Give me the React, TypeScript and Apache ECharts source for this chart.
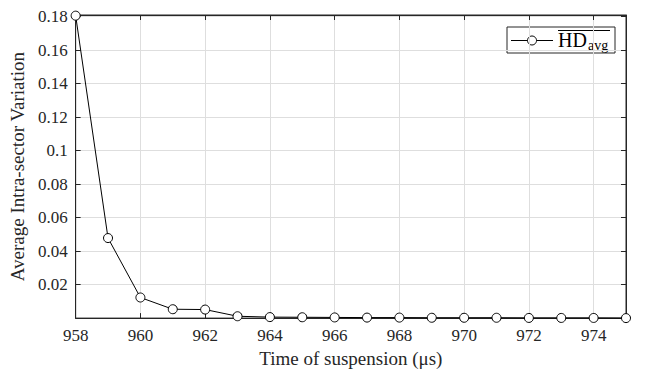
import React, { useEffect, useRef } from "react";
import * as echarts from "echarts";

const xValues = [958, 959, 960, 961, 962, 963, 964, 965, 966, 967, 968, 969, 970, 971, 972, 973, 974, 975];
const hdAvg = [0.1806, 0.0478, 0.0123, 0.0053, 0.0051, 0.0011, 0.0006, 0.0005, 0.0004, 0.0003, 0.0003, 0.0002, 0.0002, 0.0002, 0.0001, 0.0001, 0.0001, 0.0];
const xTitle = "Time of suspension (μs)";
const yTitle = "Average Intra-sector Variation";

const FONT = "Liberation Serif";
const AX = "#262626";
const GRID = "#dedede";

export default function App() {
  const ref = useRef<HTMLDivElement>(null);
  useEffect(() => {
    if (!ref.current) return;
    const chart = echarts.init(ref.current, null, { renderer: "svg" });
    const data = xValues.map((x, i) => [x, hdAvg[i]]);
    const xFmt = (v: number) => (Math.round(v) % 2 === 0 && v < 975 ? String(v) : "");
    const yFmt = (v: number) => (v <= 0 || v > 0.1805 ? "" : String(Number(v.toFixed(2))));
    chart.setOption({
      animation: false,
      backgroundColor: "#ffffff",
      textStyle: { fontFamily: FONT },
      grid: { left: 73, right: 21, top: 15, bottom: 53, show: true, borderColor: AX, borderWidth: 1, containLabel: false },
      xAxis: [
        {
          type: "value", min: 958, max: 975, interval: 2, position: "bottom",
          name: xTitle, nameLocation: "middle", nameGap: 30,
          nameTextStyle: { fontSize: 19, fontFamily: FONT, color: "#262626" },
          axisLine: { show: true, onZero: false, lineStyle: { color: AX, width: 1 } },
          axisTick: { show: true, inside: true, length: 5, lineStyle: { color: AX } },
          axisLabel: { formatter: xFmt, color: "#262626", fontSize: 17, fontFamily: FONT, margin: 9 },
          splitLine: { show: true, lineStyle: { color: GRID, width: 1 } },
        },
        {
          type: "value", min: 958, max: 975, interval: 2, position: "top",
          axisLine: { show: true, onZero: false, lineStyle: { color: AX, width: 1 } },
          axisTick: { show: true, inside: true, length: 5, lineStyle: { color: AX } },
          axisLabel: { show: false },
          splitLine: { show: false },
        },
      ],
      yAxis: [
        {
          type: "value", min: 0, max: 0.181, interval: 0.02, position: "left",
          name: yTitle, nameLocation: "middle", nameGap: 38,
          nameTextStyle: { fontSize: 19, fontFamily: FONT, color: "#262626" },
          axisLine: { show: true, onZero: false, lineStyle: { color: AX, width: 1 } },
          axisTick: { show: true, inside: true, length: 5, lineStyle: { color: AX } },
          axisLabel: { formatter: yFmt, color: "#262626", fontSize: 17, fontFamily: FONT, margin: 8 },
          splitLine: { show: true, lineStyle: { color: GRID, width: 1 } },
        },
        {
          type: "value", min: 0, max: 0.181, interval: 0.02, position: "right",
          axisLine: { show: true, onZero: false, lineStyle: { color: AX, width: 1 } },
          axisTick: { show: true, inside: true, length: 5, lineStyle: { color: AX } },
          axisLabel: { show: false },
          splitLine: { show: false },
        },
      ],
      series: [
        {
          type: "line", xAxisIndex: 0, yAxisIndex: 0, data,
          symbol: "circle", symbolSize: 9, showAllSymbol: true,
          lineStyle: { color: "#000000", width: 1 },
          itemStyle: { color: "#ffffff", borderColor: "#000000", borderWidth: 1 },
          clip: false,
        },
      ],
      graphic: [
        {
          type: "group",
          children: [
            { type: "rect", shape: { x: 507, y: 27, width: 108, height: 26 }, style: { fill: "#ffffff", stroke: AX, lineWidth: 1 } },
            { type: "line", shape: { x1: 511, y1: 40.5, x2: 553, y2: 40.5 }, style: { stroke: "#000000", lineWidth: 1 } },
            { type: "circle", shape: { cx: 532, cy: 40.5, r: 4.5 }, style: { fill: "#ffffff", stroke: "#000000", lineWidth: 1 } },
            { type: "text", style: { text: "HD", x: 558, y: 40, fontFamily: FONT, fontSize: 20, fill: "#000000", verticalAlign: "middle" } },
            { type: "text", style: { text: "avg", x: 588, y: 45.5, fontFamily: FONT, fontSize: 14, fill: "#000000", verticalAlign: "middle" } },
            { type: "line", shape: { x1: 558, y1: 30.5, x2: 610, y2: 30.5 }, style: { stroke: "#000000", lineWidth: 1 } },
          ],
        },
      ],
    });
    return () => chart.dispose();
  }, []);
  return <div ref={ref} style={{ width: 647, height: 373, position: "absolute", left: 0, top: 0 }} />;
}
